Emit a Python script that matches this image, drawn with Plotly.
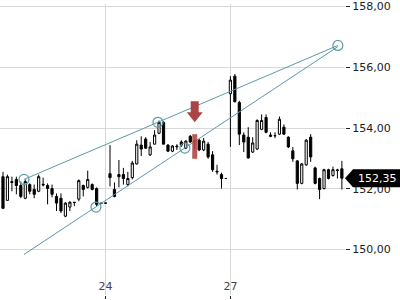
import plotly.graph_objects as go

# ---- data (30-min candles, index based) ----
OPEN = [152.40, 151.62, 152.24, 152.31, 152.11, 151.69, 152.14, 151.98, 151.92, 152.15,
        152.11, 152.01, 151.75, 151.69, 151.10, 151.40, 151.56, 151.66, 152.11, 152.05,
        152.14, 152.01, 151.53, 151.53, 152.50, 151.98, 152.47, 152.47, 152.14, 152.37,
        152.82, 153.44, 153.64, 153.12, 153.47, 153.83, 154.19, 153.44, 153.24, 153.38,
        153.54, 153.34, 153.73, 153.58, 153.60, 153.28, 153.47, 153.12, 152.58, 152.47,
        152.34, 155.13, 155.71, 154.84, 153.77, 153.70, 153.21, 153.31, 153.96, 154.35,
        153.77, 153.75, 153.80, 154.03, 153.70, 153.25, 152.92, 152.18, 152.79, 153.70,
        152.69, 152.34, 152.01, 152.63, 152.44, 152.60, 152.66]
HIGH = [152.56, 152.47, 152.40, 152.40, 152.24, 152.31, 152.18, 152.14, 152.47, 152.37,
        152.18, 152.14, 151.85, 151.85, 151.56, 151.59, 151.57, 152.31, 152.14, 152.60,
        152.18, 152.05, 151.53, 151.54, 153.44, 152.21, 152.95, 152.69, 152.56, 152.92,
        153.60, 153.73, 153.70, 153.54, 153.93, 154.25, 154.22, 153.47, 153.44, 153.47,
        153.60, 153.60, 153.77, 153.60, 153.64, 153.67, 153.54, 153.24, 152.79, 152.53,
        152.36, 155.71, 155.78, 154.90, 153.86, 154.03, 153.70, 154.29, 154.45, 154.45,
        153.86, 153.86, 154.38, 154.12, 153.73, 153.38, 152.95, 152.85, 153.64, 153.80,
        152.73, 152.37, 152.66, 152.66, 152.73, 152.66, 152.92]
LOW = [151.33, 151.62, 151.92, 151.82, 151.69, 151.66, 151.82, 151.69, 151.89, 152.08,
       151.49, 151.72, 151.27, 151.20, 151.07, 151.27, 151.43, 151.59, 151.75, 152.01,
       151.95, 151.43, 151.50, 151.51, 152.08, 151.72, 152.05, 152.14, 152.08, 152.31,
       152.80, 153.08, 153.31, 153.08, 153.47, 153.80, 153.47, 153.21, 153.21, 153.28,
       153.38, 153.31, 153.51, 153.31, 153.24, 153.24, 152.99, 152.56, 152.47, 152.01,
       152.32, 153.38, 154.84, 153.44, 153.21, 152.99, 153.18, 153.28, 153.93, 153.83,
       153.70, 153.67, 153.77, 153.77, 153.34, 152.89, 151.98, 152.15, 152.76, 152.89,
       152.15, 151.66, 151.98, 152.31, 152.40, 152.34, 151.98]
CLOSE = [151.36, 152.40, 152.21, 152.11, 151.75, 152.24, 151.92, 151.82, 152.40, 152.13,
         152.01, 151.82, 151.53, 151.27, 151.53, 151.56, 151.55, 152.27, 151.98, 152.31,
         151.98, 151.49, 151.52, 151.53, 152.37, 151.75, 152.40, 152.34, 152.34, 152.85,
         153.47, 153.31, 153.34, 153.38, 153.77, 154.19, 153.47, 153.24, 153.41, 153.40,
         153.44, 153.57, 153.54, 153.57, 153.28, 153.57, 153.05, 152.63, 152.56, 152.34,
         152.34, 155.58, 154.87, 153.80, 153.54, 153.02, 153.51, 154.25, 154.25, 153.86,
         153.73, 153.75, 154.29, 153.80, 153.38, 152.99, 152.18, 152.82, 153.60, 153.05,
         152.18, 151.98, 152.63, 152.34, 152.63, 152.62, 152.35]
IDX = list(range(len(OPEN)))

X_TICK_POS = [23, 51]
X_TICK_TEXT = ["24", "27"]
Y_TICKS = [150, 152, 154, 156, 158]
LAST_PRICE = 152.35
LAST_LABEL = "152,35"

UPPER_LINE_X = [4.71, 75.1]
UPPER_LINE_Y = [152.31, 156.72]
LOWER_LINE_X = [4.71, 75.1]
LOWER_LINE_Y = [149.84, 156.68]
ANCHOR_X = [4.71, 34.75, 75.1, 20.85, 40.8]
ANCHOR_Y = [152.31, 154.19, 156.72, 151.40, 153.34]

SIGNAL_IDX = 43
SIGNAL_TIP = 154.19
SIGNAL_BAR = [152.99, 153.80]

X_RANGE = [-0.67, 76.7]
Y_RANGE = [148.506, 158.084]

TEAL = "#5a9ca6"
RED = "#a63a3a"

fig = go.Figure()

fig.add_trace(go.Candlestick(
    x=IDX, open=OPEN, high=HIGH, low=LOW, close=CLOSE,
    increasing=dict(line=dict(color="#000000", width=1), fillcolor="#ffffff"),
    decreasing=dict(line=dict(color="#000000", width=1), fillcolor="#000000"),
    whiskerwidth=0, showlegend=False, hoverinfo="skip"))

for xs, ys in [(UPPER_LINE_X, UPPER_LINE_Y), (LOWER_LINE_X, LOWER_LINE_Y)]:
    fig.add_trace(go.Scatter(x=xs, y=ys, mode="lines",
                             line=dict(color=TEAL, width=1), showlegend=False,
                             hoverinfo="skip"))

fig.add_trace(go.Scatter(x=ANCHOR_X, y=ANCHOR_Y, mode="markers",
                         marker=dict(symbol="circle-open", size=10,
                                     line=dict(color=TEAL, width=1.2), color=TEAL),
                         showlegend=False, hoverinfo="skip"))

shapes = []
# red signal arrow (pixel-sized, anchored on data)
shapes.append(dict(type="path", xref="x", yref="y", xsizemode="pixel", ysizemode="pixel",
                   xanchor=SIGNAL_IDX, yanchor=SIGNAL_TIP,
                   path="M 0 0 L -8 10 L -4 10 L -4 21 L 4 21 L 4 10 L 8 10 Z",
                   fillcolor=RED, line=dict(width=0), opacity=0.95, layer="above"))
# red highlight bar on candle
shapes.append(dict(type="rect", xref="x", yref="y", xsizemode="pixel",
                   xanchor=SIGNAL_IDX, x0=-2.5, x1=2.5,
                   y0=SIGNAL_BAR[0], y1=SIGNAL_BAR[1],
                   fillcolor="#b2433d", line=dict(width=0), opacity=0.88, layer="above"))
# last price label box
shapes.append(dict(type="path", xref="paper", yref="y", xsizemode="pixel", ysizemode="pixel",
                   xanchor=1, yanchor=LAST_PRICE,
                   path="M 0 0 L 8 9 L 60 9 L 60 -9 L 8 -9 Z",
                   fillcolor="#000000", line=dict(width=0), layer="above"))

fig.update_layout(
    width=400, height=300,
    margin=dict(l=0, r=55, t=0, b=5),
    paper_bgcolor="#ffffff", plot_bgcolor="#ffffff",
    separators=",.",
    font=dict(family="DejaVu Sans", size=11, color="#222222"),
    shapes=shapes,
    annotations=[dict(xref="paper", yref="y", x=1, y=LAST_PRICE, xshift=11,
                      xanchor="left", yanchor="middle", text=LAST_LABEL,
                      showarrow=False, font=dict(color="#ffffff", size=11,
                                                 family="DejaVu Sans"))],
    xaxis=dict(range=X_RANGE, tickvals=X_TICK_POS, ticktext=X_TICK_TEXT,
               showgrid=True, gridcolor="#d8d8d8", gridwidth=1,
               ticks="outside", ticklen=3, tickcolor="#222222",
               ticklabelposition="inside", ticklabeloverflow="allow", zeroline=False,
               showline=False, rangeslider=dict(visible=False), fixedrange=True),
    yaxis=dict(range=Y_RANGE, side="right", tickvals=Y_TICKS, tickformat=".2f",
               showgrid=True, gridcolor="#d8d8d8", gridwidth=1,
               ticks="outside", ticklen=4, tickcolor="#222222",
               ticklabeloverflow="allow",
               zeroline=False, showline=False, fixedrange=True),
)

fig.write_html("out.html")
